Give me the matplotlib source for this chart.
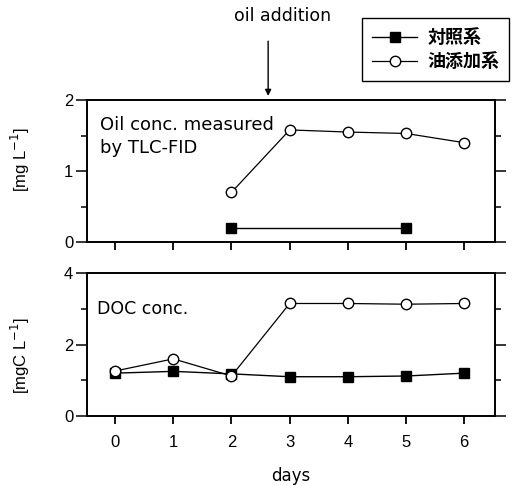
import matplotlib
matplotlib.use("Agg")
import matplotlib.pyplot as plt
from matplotlib.ticker import MultipleLocator

plt.rcParams['font.family'] = ['Liberation Sans', 'Noto Sans CJK JP', 'DejaVu Sans']

days = [0, 1, 2, 3, 4, 5, 6]

# oil concentration (TLC-FID)
oil_ctrl_days = [2, 5]
oil_ctrl = [0.2, 0.2]
oil_add_days = [2, 3, 4, 5, 6]
oil_add = [0.7, 1.58, 1.55, 1.53, 1.4]

# DOC concentration
doc_ctrl = [1.2, 1.25, 1.18, 1.1, 1.1, 1.12, 1.2]
doc_add = [1.26, 1.6, 1.12, 3.15, 3.15, 3.13, 3.15]

labels = ['対照系', '油添加系']

fig = plt.figure(figsize=(5.13, 4.86), dpi=100)
ax1 = fig.add_axes([0.170, 0.502, 0.795, 0.292])
ax2 = fig.add_axes([0.170, 0.144, 0.795, 0.294])

ctrl_style = dict(color='black', lw=1.0, marker='s', ms=6.5, mfc='black', mec='black')
add_style = dict(color='black', lw=0.9, marker='o', ms=7.5, mfc='white', mec='black', mew=1.0)

h1, = ax1.plot(oil_ctrl_days, oil_ctrl, **ctrl_style)
h2, = ax1.plot(oil_add_days, oil_add, **add_style)
ax2.plot(days, doc_ctrl, **ctrl_style)
ax2.plot(days, doc_add, **add_style)

for ax in (ax1, ax2):
    ax.set_xlim(-0.48, 6.53)
    ax.set_xticks(days)
    for s in ax.spines.values():
        s.set_linewidth(1.4)
    ax.tick_params(axis='x', direction='out', length=6, width=1.3, labelsize=12, pad=8)
    ax.tick_params(axis='y', which='both', direction='out', width=1.1, labelsize=12, right=True, pad=2)
    ax.tick_params(axis='y', which='major', length=8)
    ax.tick_params(axis='y', which='minor', length=4)

ax1.set_ylim(0, 2)
ax1.yaxis.set_major_locator(MultipleLocator(1))
ax1.yaxis.set_minor_locator(MultipleLocator(0.5))
ax1.tick_params(axis='x', labelbottom=False)
ax1.set_ylabel('[mg L$^{-1}$]', fontsize=12)
ax1.yaxis.set_label_coords(-0.135, 0.58)
ax1.text(0.032, 0.885, 'Oil conc. measured\nby TLC-FID', transform=ax1.transAxes,
         fontsize=13, family='DejaVu Sans', va='top', ha='left', linespacing=1.3)

ax2.set_ylim(0, 4)
ax2.yaxis.set_major_locator(MultipleLocator(2))
ax2.yaxis.set_minor_locator(MultipleLocator(1))
ax2.set_ylabel('[mgC L$^{-1}$]', fontsize=12)
ax2.yaxis.set_label_coords(-0.135, 0.42)
ax2.set_xlabel('days', fontsize=12, family='DejaVu Sans', labelpad=12)
ax2.text(0.025, 0.81, 'DOC conc.', transform=ax2.transAxes, fontsize=12.5,
         family='DejaVu Sans', va='top', ha='left')

fig.legend([h1, h2], labels, loc='upper left', bbox_to_anchor=(0.706, 0.963),
           frameon=True, fancybox=False, edgecolor='black', framealpha=1,
           prop={'family': ['Noto Sans CJK JP'], 'weight': 'bold', 'size': 13},
           handlelength=2.5, handletextpad=0.55, borderpad=0.55, labelspacing=0.3,
           borderaxespad=0)

fig.text(0.55, 0.985, 'oil addition', fontsize=12.5, family='DejaVu Sans', ha='center', va='top')
ax1.annotate('', xy=(2.63, 2.02), xycoords='data',
             xytext=(2.63, 2.87), textcoords='data',
             arrowprops=dict(arrowstyle='-|>', color='black', lw=1.0, mutation_scale=9),
             annotation_clip=False)

fig.savefig('out.png', dpi=100)
